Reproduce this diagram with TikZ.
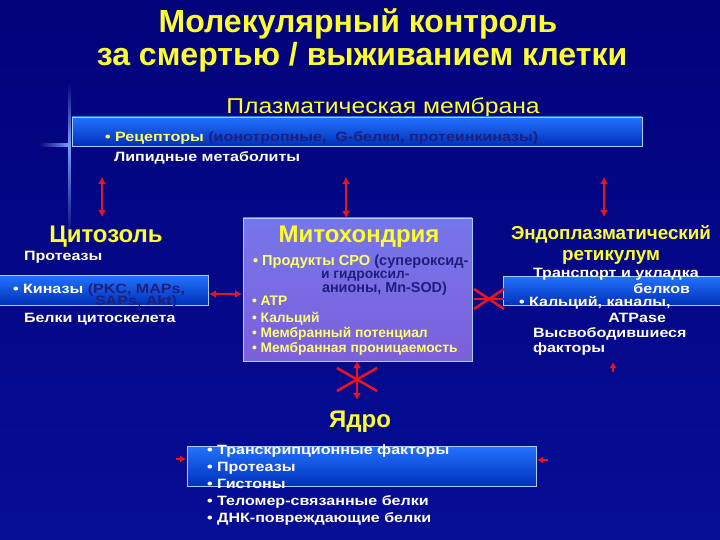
\documentclass[tikz,border=0pt]{standalone}
\usepackage{fontspec}
\setmainfont{Liberation Sans}
\newfontfamily\bodyf{Liberation Sans}[FakeStretch=1.19]
\newfontfamily\memf{Liberation Sans}[FakeStretch=1.15]
\usetikzlibrary{arrows.meta}
\definecolor{bgtop}{RGB}{2,2,122}
\definecolor{bgbot}{RGB}{6,14,150}
\definecolor{ttl}{RGB}{255,255,45}
\definecolor{wtxt}{RGB}{255,255,232}
\definecolor{ytxt}{RGB}{255,255,110}
\definecolor{dtxt}{RGB}{30,30,125}
\definecolor{arr}{RGB}{235,20,30}
\definecolor{boxline}{RGB}{170,205,255}
\definecolor{bluetop}{RGB}{35,115,255}
\definecolor{bluebot}{RGB}{0,48,185}
\definecolor{mtop}{RGB}{118,118,236}
\definecolor{mmid}{RGB}{84,66,186}
\definecolor{mbot}{RGB}{124,96,218}
\definecolor{deco}{RGB}{120,160,255}
\begin{document}
\begin{tikzpicture}[x=1pt,y=-1pt,
  every node/.style={inner sep=0pt,outer sep=0pt},
  ttlstyle/.style={anchor=base,font=\bfseries\fontsize{32}{35}\selectfont,text=ttl},
  headstyle/.style={anchor=base,font=\bfseries\fontsize{24}{26}\selectfont,text=ttl},
  erhead/.style={anchor=base,font=\bfseries\fontsize{18.8}{21}\selectfont,text=ttl},
  body/.style={anchor=base west,font=\bodyf\bfseries\fontsize{13.5}{15}\selectfont,text=wtxt},
  ybody/.style={body,text=ytxt,font=\bfseries\fontsize{13.8}{15}\selectfont},
  bluebox/.style={draw=boxline,line width=0.7pt,top color=bluetop,bottom color=bluebot},
  mitobox/.style={draw=boxline,line width=0.7pt,top color=mtop,middle color=mmid,bottom color=mbot},
  redarrow/.style={arr,line width=2.4pt,{Latex[length=7pt,width=8pt]}-{Latex[length=7pt,width=8pt]}},
  redline/.style={arr,line width=2.6pt},
  redtip/.style={arr,line width=2pt,-{Latex[length=6pt,width=7pt]}}
]
% background
\shade[top color=bgtop,bottom color=bgbot] (0,0) rectangle (720,540);
\useasboundingbox (0,0) rectangle (720,540);
% decorative lines
\shade[top color=bgtop,bottom color=deco] (68,82) rectangle (70.5,145);
\shade[top color=deco,bottom color=bgtop] (68,145) rectangle (70.5,240);
\shade[left color=bgtop,right color=deco] (38,144) rectangle (70,146.5);

% title
\node[ttlstyle] (t1) at (358,33) {Молекулярный контроль};
\node[ttlstyle] (t2) at (362,66) {за смертью / выживанием клетки};

% plasma membrane
\node[anchor=base,font=\memf\fontsize{21.5}{23}\selectfont,text=ttl] (memt) at (383,114) {Плазматическая мембрана};
\node[bluebox,minimum width=570pt,minimum height=29pt] (membox) at (357,131.5) {};
\node[body,text=ytxt] (rec) at (105,142) {\textbullet\ Рецепторы \textcolor{dtxt}{(ионотропные,\ \ G-белки, протеинкиназы)}};
\node[body] (lip) at (114,162) {Липидные метаболиты};

% boxes
\node[bluebox,minimum width=210pt,minimum height=30pt] (cytobox) at (103,290) {};
\node[mitobox,minimum width=229pt,minimum height=143pt] (mitobox) at (357.5,289.5) {};
\node[bluebox,minimum width=222pt,minimum height=29pt] (erbox) at (614,290.5) {};
\node[bluebox,minimum width=349pt,minimum height=40pt] (nucbox) at (361.5,466) {};

% cytosol
\node[headstyle] (cyt) at (106,242) {Цитозоль};
\node[body] (c1) at (24,260) {Протеазы};
\node[body] (c2) at (13,293) {\textbullet\ Киназы \textcolor{dtxt}{(PKC, MAPs,}};
\node[body,text=dtxt] (c3) at (95,305) {SAPs, Akt)};
\node[body] (c4) at (24,322) {Белки цитоскелета};

% mitochondria
\node[headstyle] (mit) at (359,242) {Митохондрия};
\node[ybody,font=\bfseries\fontsize{14.6}{16}\selectfont] (m1) at (253,265) {\textbullet\ Продукты СРО \textcolor{dtxt}{(супероксид-}};
\node[ybody,text=dtxt] (m2) at (321,278) {и гидроксил-};
\node[ybody,text=dtxt,font=\bfseries\fontsize{14.4}{16}\selectfont] (m3) at (322,292) {анионы, Mn-SOD)};
\node[ybody] (m4) at (252,305) {\textbullet\ ATP};
\node[ybody] (m5) at (252,322) {\textbullet\ Кальций};
\node[ybody] (m6) at (252,337) {\textbullet\ Мембранный потенциал};
\node[ybody] (m7) at (252,352) {\textbullet\ Мембранная проницаемость};

% ER
\node[erhead] (er1) at (611,240) {Эндоплазматический};
\node[erhead] (er2) at (611,260) {ретикулум};
\node[body] (e1) at (533,277) {Транспорт и укладка};
\node[body,anchor=base east] (e2) at (690,293) {белков};
\node[body] (e3) at (519,306) {\textbullet\ Кальций, каналы,};
\node[body,anchor=base east] (e4) at (666,322) {ATPase};
\node[body] (e5) at (533,337) {Высвободившиеся};
\node[body] (e6) at (533,352) {факторы};

% nucleus
\node[headstyle] (nuc) at (360,427) {Ядро};
\node[body] (n1) at (207,454) {\textbullet\ Транскрипционные факторы};
\node[body] (n2) at (207,471) {\textbullet\ Протеазы};
\node[body] (n3) at (207,488) {\textbullet\ Гистоны};
\node[body] (n4) at (207,505) {\textbullet\ Теломер-связанные белки};
\node[body] (n5) at (207,522) {\textbullet\ ДНК-повреждающие белки};

% arrows membrane <-> compartments
\coordinate (a1t) at (102,177); \coordinate (a1b) at (102,217);
\coordinate (a2t) at (346,177); \coordinate (a2b) at (mitobox.north -| a2t);
\coordinate (a3t) at (604,177); \coordinate (a3b) at (604,217);
\draw[redarrow] (a1t) -- (a1b);
\draw[redarrow] (a2t) -- (a2b);
\draw[redarrow] (a3t) -- (a3b);
% cytosol <-> mitochondria
\draw[redarrow] ([xshift=1pt]cytobox.east |- 0,294) -- ([xshift=-1pt]mitobox.west |- 0,294);
% mitochondria >< ER
\coordinate (x1) at (474,289); \coordinate (x2) at (504,309);
\coordinate (x3) at (474,309); \coordinate (x4) at (504,289);
\draw[redline] (x1) -- (x2);
\draw[redline] (x3) -- (x4);
\draw[redline] (x1 |- 0,299) -- (x2 |- 0,299);
% mitochondria <-> nucleus (crossed)
\coordinate (s1) at (357,361); \coordinate (s2) at (357,400);
\draw[redarrow] (s1) -- (s2);
\coordinate (d1) at (337,368); \coordinate (d2) at (377,391);
\coordinate (d3) at (337,391); \coordinate (d4) at (377,368);
\draw[redline] (d1) -- (d2);
\draw[redline] (d3) -- (d4);
% small arrow tips near nucleus and ER
\coordinate (p1) at (176,459); \draw[redtip] (p1) -- ([xshift=-1pt]nucbox.west |- p1);
\coordinate (p2) at (548,460); \draw[redtip] (p2) -- ([xshift=1pt]nucbox.east |- p2);
\coordinate (p3) at (613,372); \draw[redtip] (p3) -- (613,362);
\end{tikzpicture}
\end{document}
